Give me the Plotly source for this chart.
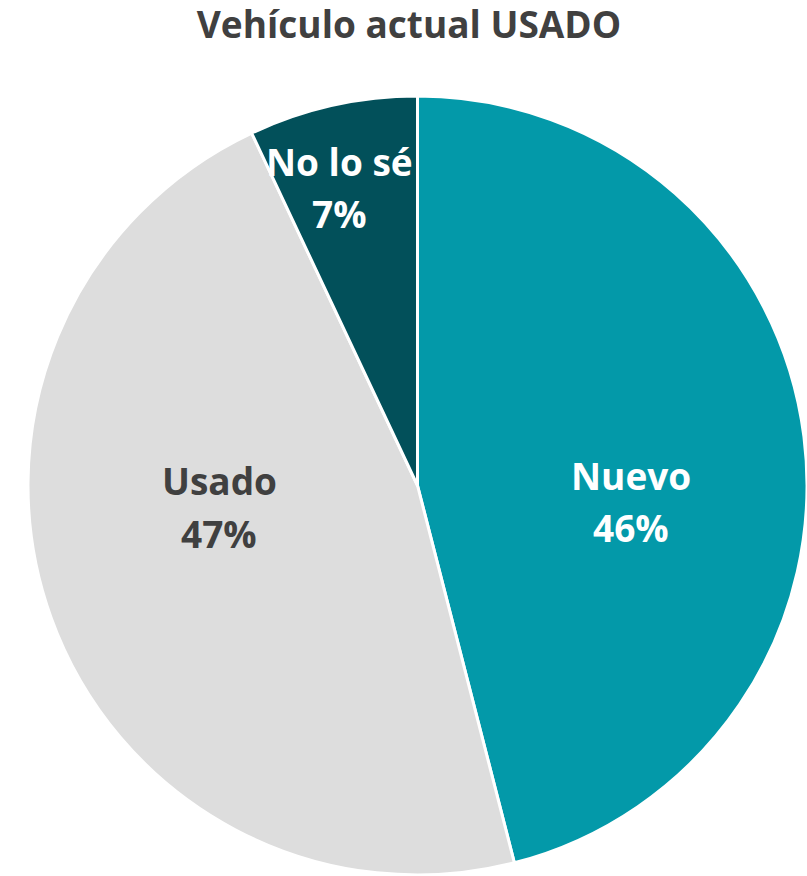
import plotly.graph_objects as go

# Current vehicle condition shares
labels = ["Nuevo", "Usado", "No lo sé"]
values = [46, 47, 7]
colors = ["#0399A9", "#DDDDDD", "#02505A"]
text_colors = ["#FFFFFF", "#404040", "#FFFFFF"]

# Label anchor points (pixel centre of each two-line label)
label_px = [(631, 501), (219, 507), (339, 187)]

W, H = 807, 876
ML, MR, MT, MB = 28, 0, 95, 0
LINE_GAP = 52
FONT = "Open Sans"
SIZE = 37

fig = go.Figure(
    go.Pie(
        labels=labels,
        values=values,
        sort=False,
        direction="clockwise",
        rotation=0,
        marker=dict(colors=colors, line=dict(color="#FFFFFF", width=3)),
        textinfo="none",
        hoverinfo="label+percent",
        showlegend=False,
    )
)

total = sum(values)


def to_paper(px, py):
    return (px - ML) / (W - ML - MR), 1 - (py - MT) / (H - MT - MB)


annotations = []
for lab, val, col, (cx, cy) in zip(labels, values, text_colors, label_px):
    pct = f"{round(100 * val / total)}%"
    for txt, dy in ((lab, -LINE_GAP / 2), (pct, LINE_GAP / 2)):
        x, y = to_paper(cx, cy + dy)
        annotations.append(
            dict(
                text=f"<b>{txt}</b>",
                x=x,
                y=y,
                xref="paper",
                yref="paper",
                xanchor="center",
                yanchor="middle",
                showarrow=False,
                font=dict(family=FONT, size=SIZE, color=col),
            )
        )

fig.update_layout(
    width=W,
    height=H,
    margin=dict(l=ML, r=MR, t=MT, b=MB),
    paper_bgcolor="#FFFFFF",
    plot_bgcolor="#FFFFFF",
    title=dict(
        text="<b>Vehículo actual USADO</b>",
        x=409 / W,
        xanchor="center",
        y=1 - 25 / H,
        yanchor="middle",
        font=dict(family=FONT, size=SIZE, color="#404040"),
    ),
    annotations=annotations,
)

fig.write_html("out.html")
